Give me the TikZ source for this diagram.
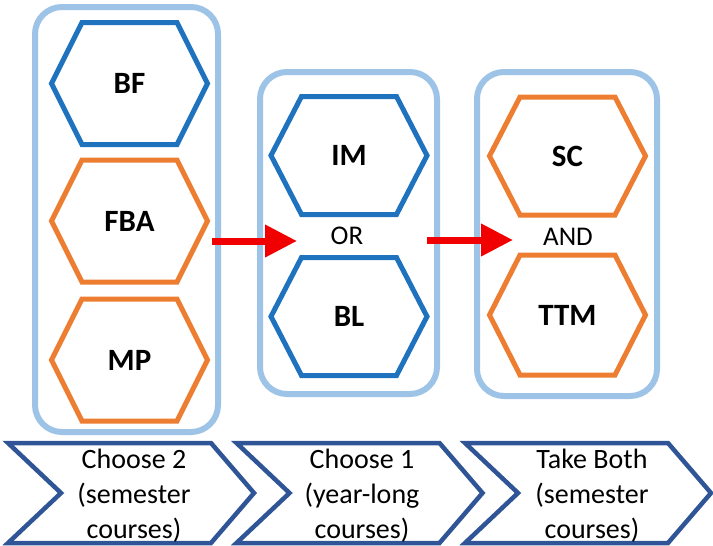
\documentclass[tikz,border=0pt]{standalone}
\usepackage{fontspec}
\setmainfont{Carlito}
\usetikzlibrary{arrows.meta}
\definecolor{contblue}{RGB}{157,195,230}
\definecolor{hexblue}{RGB}{30,114,190}
\definecolor{hexorange}{RGB}{237,125,49}
\definecolor{chevblue}{RGB}{47,85,151}
\definecolor{arrred}{RGB}{240,0,0}
\tikzset{
  container/.style={draw=contblue, line width=6pt, rounded corners=27pt, inner sep=0pt},
  hexline/.style={line width=5pt, line join=miter},
  hexlabel/.style={font=\bfseries\fontsize{31}{36}\selectfont, inner sep=0pt},
  joinword/.style={font=\fontsize{27}{32}\selectfont, inner sep=0pt},
  redarrow/.style={draw=arrred, line width=7pt, -{Triangle[length=32pt,width=31pt]}},
  chevline/.style={draw=chevblue, line width=4.5pt, line join=miter},
  chevtext/.style={font=\fontsize{28}{35}\selectfont, align=center, inner sep=0pt}
}
\newcommand\hexbox[6]{%
  \begin{scope}[shift={(#2,#3)}]
    \draw[hexline,draw=#5] (-78,0) -- (-47.5,-#4) -- (47.5,-#4) -- (78,0) -- (47.5,#4) -- (-47.5,#4) -- cycle;
  \end{scope}
  \node[hexlabel] (#1) at (#2,#3) {#6};}
\newcommand\chevron[1]{%
  \begin{scope}[shift={(#1,0)}]
    \draw[chevline] (0,443) -- (203,443) -- (246,493) -- (203,543) -- (0,543) -- (53,493) -- cycle;
  \end{scope}}
\begin{document}
\begin{tikzpicture}[x=1pt,y=-1pt]
\useasboundingbox (0,0) rectangle (713,546);
% containers
\node[container, minimum width=183pt, minimum height=425pt] (c1) at (126.5,219.5) {};
\node[container, minimum width=177pt, minimum height=322pt] (c2) at (348.5,233) {};
\node[container, minimum width=180pt, minimum height=324pt] (c3) at (567,234) {};
% hexagons
\hexbox{bf}{129.5}{83.5}{61}{hexblue}{BF}
\hexbox{fba}{129.5}{221}{61}{hexorange}{FBA}
\hexbox{mp}{129.5}{360}{61}{hexorange}{MP}
\hexbox{im}{349}{155.5}{59}{hexblue}{IM}
\hexbox{bl}{349}{316.5}{59}{hexblue}{BL}
\hexbox{sc}{567.5}{156}{59}{hexorange}{SC}
\hexbox{ttm}{567.5}{315}{60}{hexorange}{TTM}
% join words
\node[joinword] (or) at (347,236) {OR};
\node[joinword] (and) at (568,237) {AND};
% arrows
\coordinate (a1s) at (212,241);
\coordinate (a1e) at (297,241);
\coordinate (a2s) at (427,240);
\coordinate (a2e) at (513,240);
\draw[redarrow] (a1s) -- (a1e);
\draw[redarrow] (a2s) -- (a2e);
% chevrons
\chevron{8}
\chevron{236.5}
\chevron{465}
\node[chevtext] (t1) at (134,496) {Choose 2\\(semester\\courses)};
\node[chevtext] (t2) at (362,496) {Choose 1\\(year-long\\courses)};
\node[chevtext] (t3) at (592,496) {Take Both\\(semester\\courses)};
\end{tikzpicture}
\end{document}
